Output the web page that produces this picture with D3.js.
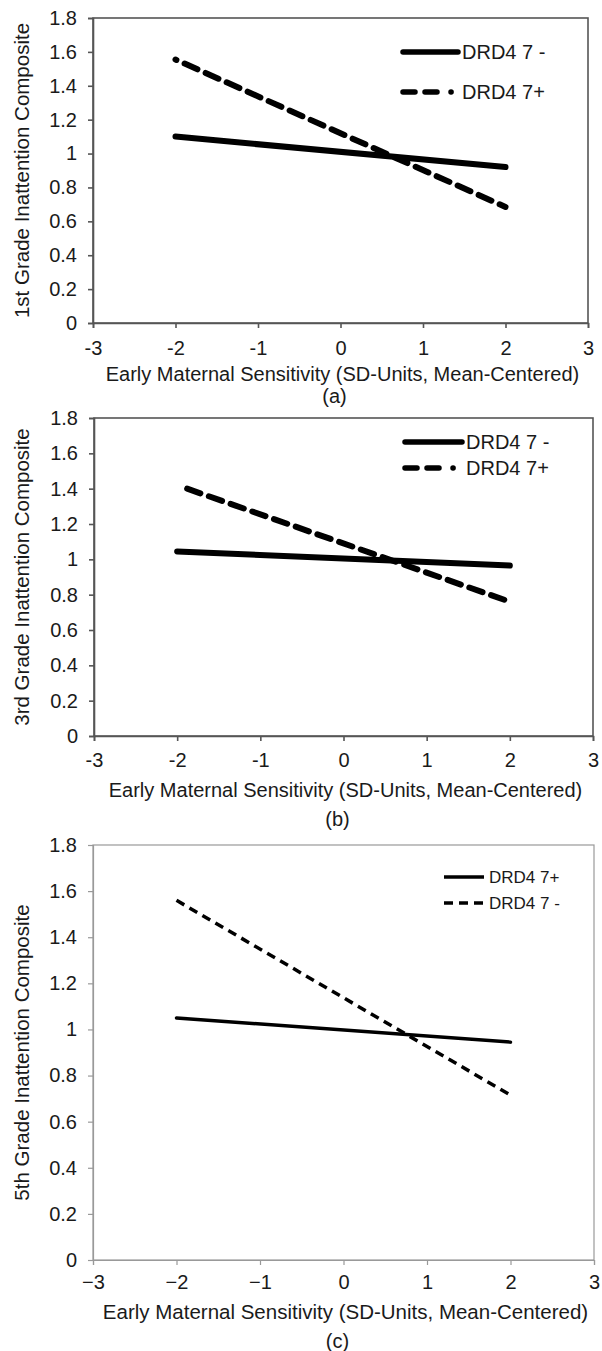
<!DOCTYPE html>
<html>
<head>
<meta charset="utf-8">
<script src="https://cdnjs.cloudflare.com/ajax/libs/d3/7.8.5/d3.min.js"></script>
<style>
  body { margin: 0; background: #fff; }
  text { font-family: "Liberation Sans", Arial, sans-serif; fill: #1a1a1a; }
</style>
</head>
<body>
<svg class="chart"></svg>
<script>
// tick values shared by the three panels
var xTicks = [-3, -2, -1, 0, 1, 2, 3];
var yTicks = [0, 0.2, 0.4, 0.6, 0.8, 1, 1.2, 1.4, 1.6, 1.8];

// panel (a) - 1st grade
var aSolid = [[-2, 1.10], [2, 0.92]];
var aDashed = [[-2, 1.555], [2, 0.685]];
// panel (b) - 3rd grade
var bSolid = [[-2, 1.045], [2, 0.965]];
var bDashed = [[-1.88, 1.40], [2, 0.76]];
// panel (c) - 5th grade
var cSolid = [[-2, 1.05], [2, 0.945]];
var cDashed = [[-2, 1.56], [2, 0.715]];

var xTitle = "Early Maternal Sensitivity (SD-Units, Mean-Centered)";
var yTitles = ["1st Grade Inattention Composite", "3rd Grade Inattention Composite", "5th Grade Inattention Composite"];
var legendA = ["DRD4 7 -", "DRD4 7+"];
var legendC = ["DRD4 7+", "DRD4 7 -"];
var captions = ["(a)", "(b)", "(c)"];

function show() {
    'use strict';
    var svg = d3.select(".chart")
        .attr("width", 602)
        .attr("height", 1351);

    // layout of each panel (pixels)
    var panels = [
        {left: 93, right: 588, top: 18, bottom: 323, solid: aSolid, dashed: aDashed, legend: legendA,
         yTitle: yTitles[0], caption: captions[0], thin: false, hyphen: true, dashStart: 13,
         leg: {x0: 403, x1: 458, y: 52, gap: 40, fs: 20}, lab: 25, tit: 51, cap: 74, axisColor: "#555"},
        {left: 94, right: 593, top: 418, bottom: 736, solid: bSolid, dashed: bDashed, legend: legendA,
         yTitle: yTitles[1], caption: captions[1], thin: false, hyphen: true, dashStart: 0,
         leg: {x0: 405, x1: 462, y: 442, gap: 26, fs: 20}, lab: 24, tit: 54, cap: 84, axisColor: "#555"},
        {left: 93, right: 594, top: 845, bottom: 1260, solid: cSolid, dashed: cDashed, legend: legendC,
         yTitle: yTitles[2], caption: captions[2], thin: true, hyphen: false, dashStart: 0,
         leg: {x0: 444, x1: 484, y: 877, gap: 26, fs: 17}, lab: 22, tit: 52, cap: 82, axisColor: "#999"}
    ];

    panels.forEach(drawPanel);

    function drawPanel(p) {
        var g = svg.append("g");
        var x = d3.scaleLinear().domain([-3, 3]).range([p.left, p.right]);
        var y = d3.scaleLinear().domain([0, 1.8]).range([p.bottom, p.top]);
        var sw = p.thin ? 1.2 : 1.6;

        // frame
        g.append("rect")
            .attr("x", p.left).attr("y", p.top)
            .attr("width", p.right - p.left).attr("height", p.bottom - p.top)
            .attr("fill", "none")
            .attr("stroke", p.axisColor)
            .attr("stroke-width", sw);

        var yAxis = d3.axisLeft(y).tickValues(yTicks).tickSize(5).tickPadding(11)
            .tickFormat(function(d) { return String(d); });
        var xAxis = d3.axisBottom(x).tickValues(xTicks).tickSize(5).tickPadding(p.lab - 12)
            .tickFormat(function(d) { return p.hyphen ? String(d) : d3.format("")(d); });

        var ya = g.append("g").attr("transform", "translate(" + p.left + ",0)").call(yAxis);
        var xa = g.append("g").attr("transform", "translate(0," + p.bottom + ")").call(xAxis);
        [ya, xa].forEach(function(a) {
            a.select(".domain").attr("stroke", p.axisColor).attr("stroke-width", sw);
            a.selectAll(".tick line").attr("stroke", p.axisColor).attr("stroke-width", sw);
            a.selectAll(".tick text").attr("font-size", 20).attr("fill", "#1a1a1a")
                .attr("font-family", "'Liberation Sans', Arial, sans-serif");
        });

        // x title and caption (positions given as text centres below the axis)
        var cx = (p.left + p.right) / 2;
        g.append("text").attr("x", cx + 2).attr("y", p.bottom + p.tit + 7)
            .attr("text-anchor", "middle").attr("font-size", p.thin ? 20.5 : 20).text(xTitle);
        g.append("text").attr("x", cx - 6).attr("y", p.bottom + p.cap + 6)
            .attr("text-anchor", "middle").attr("font-size", 20).text(p.caption);

        // y title
        g.append("text")
            .attr("transform", "translate(29," + ((p.top + p.bottom) / 2) + ") rotate(-90)")
            .attr("text-anchor", "middle").attr("font-size", 20.5)
            .text(p.yTitle);

        var line = d3.line()
            .x(function(d) { return x(d[0]); })
            .y(function(d) { return y(d[1]); });

        var w = p.thin ? 3.5 : 6;
        var dash = p.thin ? "9,6" : "14,9";
        var legDash = p.thin ? "9,6" : "12,10,12,14,0.1,20";

        g.append("path").datum(p.solid)
            .attr("d", line).attr("fill", "none").attr("stroke", "#000")
            .attr("stroke-width", w).attr("stroke-linecap", "round");
        g.append("path").datum(p.dashed)
            .attr("d", line).attr("fill", "none").attr("stroke", "#000")
            .attr("stroke-width", w).attr("stroke-dasharray", dash)
            .attr("stroke-dashoffset", p.dashStart)
            .attr("stroke-linecap", p.thin ? "butt" : "round");

        // legend
        var leg = g.append("g");
        [0, 1].forEach(function(i) {
            var ly = p.leg.y + i * p.leg.gap;
            leg.append("line")
                .attr("x1", p.leg.x0).attr("x2", p.leg.x1)
                .attr("y1", ly).attr("y2", ly)
                .attr("stroke", "#000").attr("stroke-width", p.thin ? 3.5 : 5.5)
                .attr("stroke-dasharray", i === 1 ? legDash : null)
                .attr("stroke-linecap", p.thin ? "butt" : "round");
            leg.append("text")
                .attr("x", p.leg.x1 + (p.thin ? 5 : 4)).attr("y", ly)
                .attr("dy", "0.35em").attr("font-size", p.leg.fs)
                .text(p.legend[i]);
        });
    }
}
show();
</script>
</body>
</html>
